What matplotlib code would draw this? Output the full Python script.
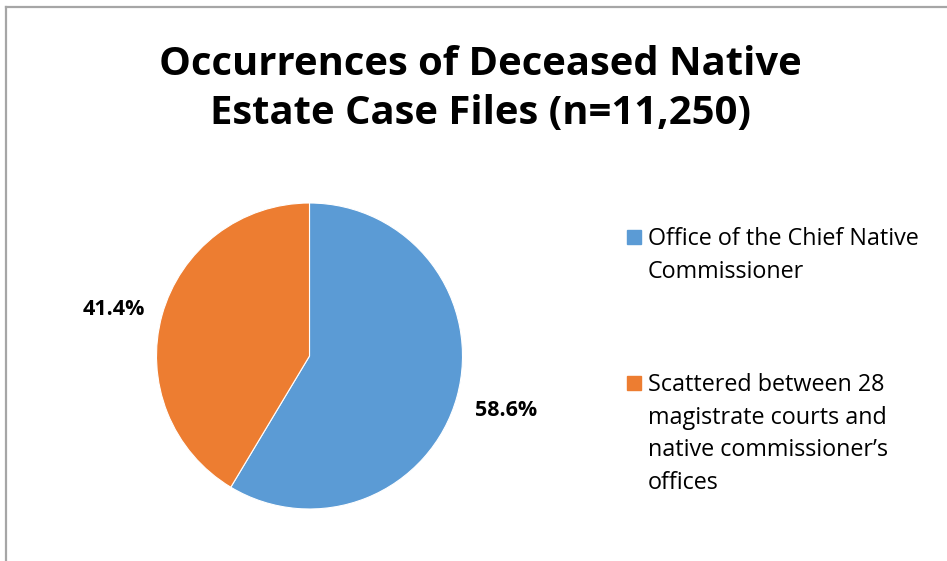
import matplotlib
matplotlib.use("Agg")
import matplotlib.pyplot as plt
from matplotlib.lines import Line2D
from matplotlib.patches import Rectangle

plt.rcParams['font.family'] = ['Open Sans', 'DejaVu Sans']

# data
categories = ["Office of the Chief Native\nCommissioner",
              "Scattered between 28\nmagistrate courts and\nnative commissioner\u2019s\noffices"]
shares = [58.6, 41.4]
colors = ["#5B9BD5", "#ED7D31"]
title = "Occurrences of Deceased Native\nEstate Case Files (n=11,250)"

W, H = 947, 561
fig = plt.figure(figsize=(W / 100, H / 100), dpi=100)

# chart frame (top and left edges visible)
fig.add_artist(Line2D([5.5 / W, 5.5 / W], [0, 1 - 6.5 / H], transform=fig.transFigure,
                      color="#A6A6A6", lw=1.6))
fig.add_artist(Line2D([5.5 / W, 1], [1 - 6.5 / H, 1 - 6.5 / H], transform=fig.transFigure,
                      color="#A6A6A6", lw=1.6))

fig.text(480 / W, 1 - 89 / H, title, ha="center", va="center", fontsize=28.8,
         fontweight="bold", linespacing=1.34)

cx, cy, r = 309.5, 356, 153
ax = fig.add_axes([(cx - r) / W, 1 - (cy + r) / H, 2 * r / W, 2 * r / H])
wedges, texts, autotexts = ax.pie(shares, colors=colors, startangle=90, counterclock=False,
                                  autopct="%.1f%%", pctdistance=1.33,
                                  wedgeprops=dict(edgecolor="white", linewidth=0.8),
                                  textprops=dict(fontsize=15.5, fontweight="bold"))
# excel puts the small-slice label a bit lower
px, py = autotexts[1].get_position()
autotexts[1].set_position((px, py - 0.05))
ax.set_xlim(-1, 1)
ax.set_ylim(-1, 1)
ax.set_aspect("equal")

# legend, handle aligned with the first line of each label
leg_y = [237, 383]
for lab, col, y in zip(categories, colors, leg_y):
    fig.add_artist(Rectangle((627 / W, 1 - (y + 7) / H), 14 / W, 14 / H,
                             transform=fig.transFigure, color=col))
    fig.text(648 / W, 1 - (y - 10) / H, lab, ha="left", va="top", fontsize=16.8,
             linespacing=1.48)

fig.savefig("out.png", dpi=100)
